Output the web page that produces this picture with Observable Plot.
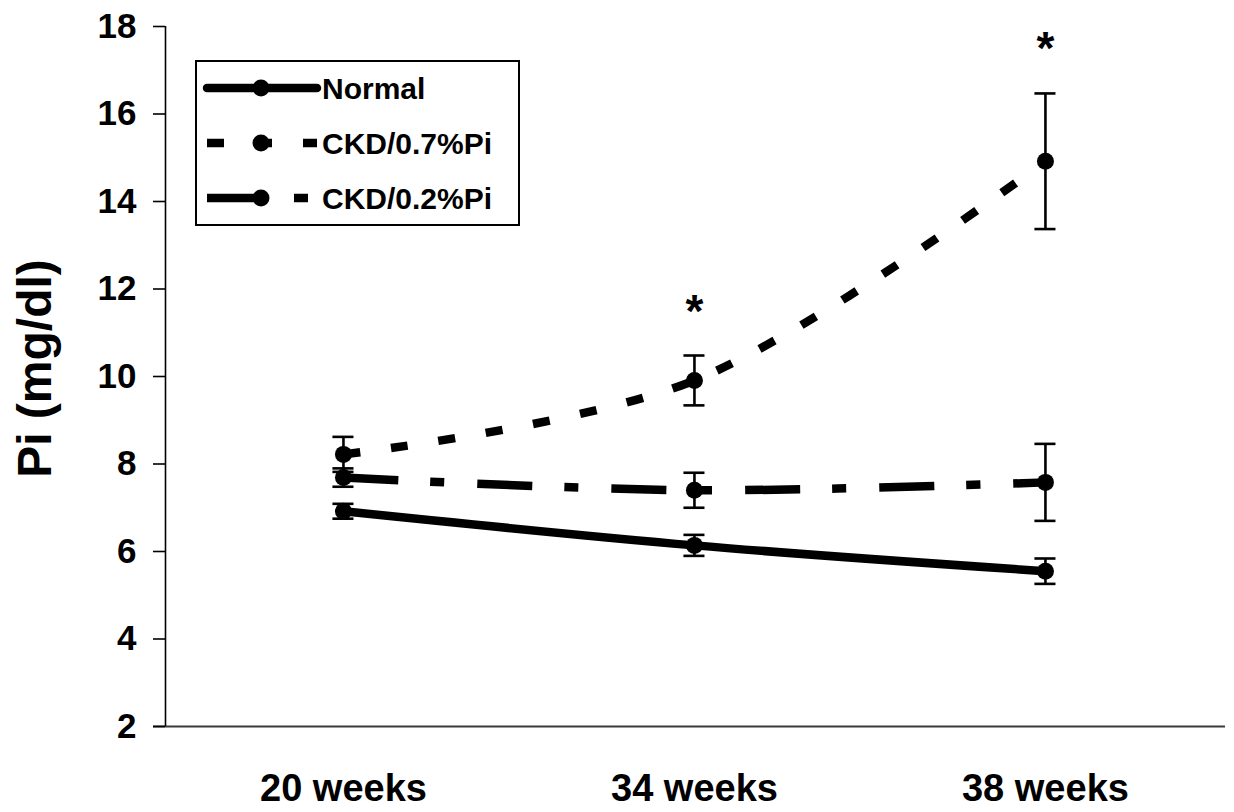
<!DOCTYPE html>
<html><head><meta charset="utf-8">
<script src="https://cdn.jsdelivr.net/npm/d3@7"></script>
<script src="https://cdn.jsdelivr.net/npm/@observablehq/plot@0.6"></script>
<style>
body{margin:0;background:#fff}
#chart{position:relative;width:1234px;height:812px}
</style>
</head><body><div id="chart"></div>
<script>
// ---- data ----
const weeks = ["20 weeks", "34 weeks", "38 weeks"];
const seriesNames = ["Normal", "CKD/0.7%Pi", "CKD/0.2%Pi"];
const normalMean = [6.92, 6.14, 5.55];
const normalSE   = [0.17, 0.24, 0.29];
const ckd07Mean  = [8.22, 9.91, 14.92];
const ckd07SE    = [0.40, 0.57, 1.55];
const ckd02Mean  = [7.69, 7.40, 7.58];
const ckd02SE    = [0.21, 0.40, 0.88];
const significant = ["34 weeks", "38 weeks"]; // CKD/0.7%Pi vs others, marked with *
const yTicks = [2, 4, 6, 8, 10, 12, 14, 16, 18];

// ---- styles ----
const dashes = {"Normal": null, "CKD/0.7%Pi": "17 31", "CKD/0.2%Pi": "55 32 14 33"};
const FONT = "'Liberation Sans', Arial, Helvetica, sans-serif";

const means = [normalMean, ckd07Mean, ckd02Mean];
const ses = [normalSE, ckd07SE, ckd02SE];
const rows = seriesNames.flatMap((s, k) => weeks.map((w, i) => ({
  series: s, week: w, i, mean: means[k][i], se: ses[k][i]
})));
const starRows = significant.map(w => {
  const r = rows.find(d => d.series === "CKD/0.7%Pi" && d.week === w);
  return {i: r.i, y: r.mean + r.se + 1.25};
});

const xDomain = [-0.507, 2.513];
const cap = 0.03;

const svg = Plot.plot({
  width: 1234, height: 812,
  marginLeft: 165, marginRight: 9, marginTop: 26, marginBottom: 86,
  style: {fontFamily: FONT, fontWeight: "bold", background: "#fff", color: "#000"},
  x: {type: "linear", domain: xDomain},
  y: {domain: [2, 18]},
  marks: [
    Plot.ruleY([2], {stroke: "#3a3a3a", strokeWidth: 2.2, insetLeft: -12}),
    Plot.ruleX([xDomain[0]], {y1: 2, y2: 18, stroke: "#000", strokeWidth: 1.6}),
    Plot.axisY({ticks: yTicks, tickSize: 12, tickPadding: 17, fontSize: 35, fontWeight: "bold", stroke: "#000", strokeWidth: 1.6, label: null}),
    Plot.axisX({ticks: [0, 1, 2], tickFormat: i => weeks[i], tickSize: 0, tickPadding: 48, fontSize: 38, fontWeight: "bold", label: null}),
    ...seriesNames.map(s => Plot.line(rows.filter(d => d.series === s), {
      x: "i", y: "mean", curve: "catmull-rom", stroke: "#000", strokeWidth: 8.5,
      strokeDasharray: dashes[s], strokeLinecap: "butt"
    })),
    Plot.ruleX(rows, {x: "i", y1: d => d.mean - d.se, y2: d => d.mean + d.se, stroke: "#000", strokeWidth: 2.6}),
    Plot.ruleY(rows, {y: d => d.mean + d.se, x1: d => d.i - cap, x2: d => d.i + cap, stroke: "#000", strokeWidth: 2.6}),
    Plot.ruleY(rows, {y: d => d.mean - d.se, x1: d => d.i - cap, x2: d => d.i + cap, stroke: "#000", strokeWidth: 2.6}),
    Plot.dot(rows, {x: "i", y: "mean", r: 8.5, fill: "#000", stroke: "none"}),
    Plot.text(starRows, {x: "i", y: "y", text: () => "*", fontSize: 46, fontWeight: "bold", dy: 11}),
    Plot.text(["Pi (mg/dl)"], {frameAnchor: "left", textAnchor: "middle", rotate: -90, dx: -130, dy: -8, fontSize: 48, fontWeight: "bold"})
  ]
});

// ---- legend (inside plot area, top-left) ----
const g = d3.select(svg).append("g").attr("font-family", FONT).attr("font-weight", "bold").attr("text-anchor", "start");
g.append("rect").attr("x", 196).attr("y", 61).attr("width", 323).attr("height", 164)
  .attr("fill", "#fff").attr("stroke", "#000").attr("stroke-width", 2);
seriesNames.forEach((s, k) => {
  const y = 88 + k * 55;
  g.append("line").attr("x1", 207).attr("x2", 317).attr("y1", y).attr("y2", y)
    .attr("stroke", "#000").attr("stroke-width", 8.5)
    .attr("stroke-dasharray", dashes[s]).attr("stroke-linecap", s === "Normal" ? "round" : "butt");
  g.append("circle").attr("cx", 261).attr("cy", y).attr("r", 8.5).attr("fill", "#000");
  g.append("text").attr("x", 322).attr("y", y).attr("dy", "0.36em")
    .attr("font-size", 30).attr("fill", "#000").attr("text-anchor", "start").text(s);
});

document.getElementById("chart").appendChild(svg);
</script>
</body></html>
